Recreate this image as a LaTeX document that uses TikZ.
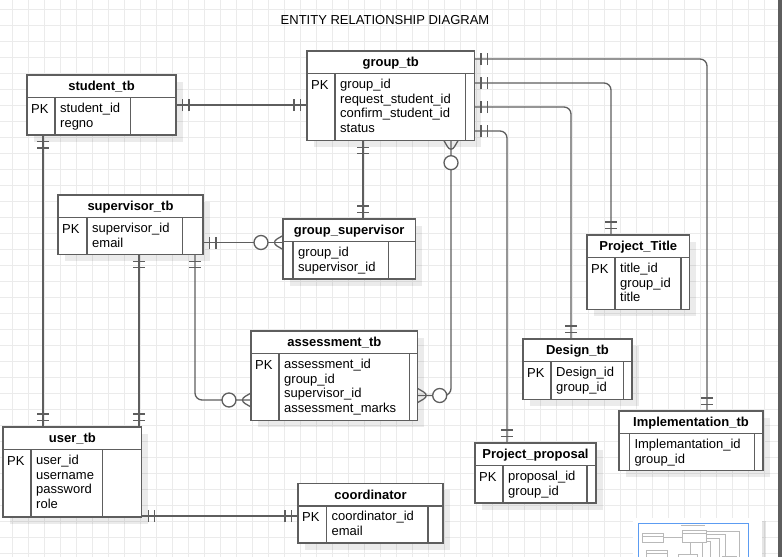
\documentclass[tikz,border=0pt]{standalone}
\usepackage{fontspec}
\setmainfont{Liberation Sans}
\usetikzlibrary{positioning,decorations.markings}
\definecolor{linec}{HTML}{5E5E5E}
\definecolor{gridc}{HTML}{EBEBEB}
\definecolor{minib}{HTML}{5C9CF2}
\newcommand{\txt}{\fontsize{13}{14.7}\selectfont}

% one table: name, corner, width, body height, key column, end column, key, title, fields
\newcommand{\ertab}[9]{%
  \fill[shd, shift={(6.5,6.5)}] #2 rectangle ++(#3,22.5+#4);
  \node[hd, minimum width=#3, anchor=north west] (#1) at #2 {#8};
  \node[tb, minimum width=#3, minimum height=#4, below=0pt of #1] (#1-b) {};
  \draw[ln] ([xshift=#5]#1-b.north west) -- ([xshift=#5]#1-b.south west);
  \draw[ln] ([xshift=-#6]#1-b.north east) -- ([xshift=-#6]#1-b.south east);
  \node[fld] at ([xshift=4,yshift=-5.2]#1-b.north west) {#7};
  \node[fld] at ([xshift=#5+5,yshift=-5.2]#1-b.north west) {#9};
}

\begin{document}
\begin{tikzpicture}[x=1pt, y=-1pt,
  ln/.style={draw=linec, line width=1.3},
  mk/.style={draw=linec, line width=1.3},
  shd/.style={black, opacity=0.08},
  hd/.style={draw=linec, line width=1.3, fill=white, minimum height=22.5, inner sep=0, outer sep=0,
    text height=9, text depth=0, font=\txt\bfseries},
  tb/.style={draw=linec, line width=1.3, fill=white, inner sep=0, outer sep=0},
  fld/.style={anchor=north west, inner sep=0, align=left, font=\txt, execute at begin node=\strut},
  rel/.style={draw=linec, line width=1.3, rounded corners=7},
  bars/.style={postaction={decorate, decoration={markings,
    mark=at position 6.5pt with {\draw[mk] (0pt,-6pt) -- (0pt,6pt);},
    mark=at position 13pt with {\draw[mk] (0pt,-6pt) -- (0pt,6pt);}}}},
  barsE/.style={postaction={decorate, decoration={markings,
    mark=at position -6.5pt with {\draw[mk] (0pt,-6pt) -- (0pt,6pt);},
    mark=at position -13pt with {\draw[mk] (0pt,-6pt) -- (0pt,6pt);}}}},
  crow/.style={postaction={decorate, decoration={markings,
    mark=at position 12pt with {\draw[mk] (-12pt,7pt) -- (0pt,0pt) -- (-12pt,-7pt);},
    mark=at position 22pt with {\draw[mk, fill=white] (0pt,0pt) circle (7pt);}}}},
  crowE/.style={postaction={decorate, decoration={markings,
    mark=at position -12pt with {\draw[mk] (12pt,7pt) -- (0pt,0pt) -- (12pt,-7pt);},
    mark=at position -22pt with {\draw[mk, fill=white] (0pt,0pt) circle (7pt);}}}},
  mini/.style={draw=gray!55, line width=0.4pt}
]
\useasboundingbox (0,0) rectangle (782,557);
\fill[white] (0,0) rectangle (782,557);
\foreach \gx in {12,28,...,780} \draw[gridc, line width=0.8] (\gx,0) -- (\gx,557);
\foreach \gy in {9,25,...,557} \draw[gridc, line width=0.8] (0,\gy) -- (782,\gy);

\node[font=\txt] (ttl) at (385,20.5) {ENTITY RELATIONSHIP DIAGRAM};

% tables
\ertab{st}{(27,75)}{149}{37.5}{28}{45.3}{PK}{student\_tb}{student\_id\\regno}
\ertab{gt}{(307,51)}{167.5}{67.2}{28}{9}{PK}{group\_tb}{group\_id\\request\_student\_id\\confirm\_student\_id\\status}
\ertab{sv}{(58,195)}{145}{37.2}{29}{20.7}{PK}{supervisor\_tb}{supervisor\_id\\email}
\ertab{gs}{(283,219)}{132.5}{37.5}{10}{27}{}{group\_supervisor}{group\_id\\supervisor\_id}
\ertab{as}{(251,331)}{166.7}{66.8}{28}{8.4}{PK}{assessment\_tb}{assessment\_id\\group\_id\\supervisor\_id\\assessment\_marks}
\ertab{pt}{(587,235)}{102.6}{51.8}{28}{8.6}{PK}{Project\_Title}{title\_id\\group\_id\\title}
\ertab{ds}{(523,339)}{109}{37.8}{28}{8.7}{PK}{Design\_tb}{Design\_id\\group\_id}
\ertab{im}{(619,411)}{144}{37}{10.3}{8.7}{}{Implementation\_tb}{Implemantation\_id\\group\_id}
\ertab{pp}{(475,443)}{121}{37.5}{28}{9}{PK}{Project\_proposal}{proposal\_id\\group\_id}
\ertab{us}{(3,427)}{138.7}{67.5}{28}{39.4}{PK}{user\_tb}{user\_id\\username\\password\\role}
\ertab{co}{(298,483.5)}{145}{37}{28.4}{15}{PK}{coordinator}{coordinator\_id\\email}

% relations
\coordinate (s1) at ([yshift=-7.5]st-b.north east);
\draw[rel, bars, barsE] (s1) -- (s1 -| gt-b.west);
\coordinate (s2) at ([xshift=16]st-b.south west);
\draw[rel, bars, barsE] (s2) -- (s2 |- us.north);
\coordinate (g0) at ([xshift=56]gt-b.south west);
\draw[rel, bars, barsE] (g0) -- (g0 |- gs.north);
\draw[rel, crow, crowE] ([xshift=144]gt-b.south west) |- ([yshift=-42]as-b.north east);
\coordinate (v1) at ([yshift=-25]sv-b.north east);
\draw[rel, bars, crowE] (v1) -- (v1 -| gs.west);
\coordinate (v2) at ([xshift=81]sv-b.south west);
\draw[rel, bars, barsE] (v2) -- (v2 |- us.north);
\draw[rel, bars, crowE] ([xshift=137]sv-b.south west) |- ([yshift=-46.5]as-b.north west);
\draw[rel, bars, barsE] ([yshift=-8]gt.north east) -| ([xshift=88]im.north west);
\draw[rel, bars, barsE] ([yshift=-9.5]gt-b.north east) -| ([xshift=24]pt.north west);
\draw[rel, bars, barsE] ([yshift=-33.5]gt-b.north east) -| ([xshift=48]ds.north west);
\draw[rel, bars, barsE] ([yshift=-57.5]gt-b.north east) -| ([xshift=32]pp.north west);
\coordinate (u1) at ([yshift=1]us-b.south east);
\draw[rel, bars, barsE] (u1) -- (u1 -| co-b.west);

% editor edge and outline view
\fill[linec] (778,0) rectangle (782,557);
\fill[black, opacity=0.1] (636,521) rectangle (766,557);
\fill[white] (633,518) rectangle (762,557);
\begin{scope}
  \clip (633,518) rectangle (762,557);
  \draw[minib, line width=0.8] (638.3,523.3) rectangle (748.3,570);
  \begin{scope}[shift={(638,522.5)}, scale=0.143]
    \draw[mini] (300,21) -- (470,21);
    \foreach \bx/\by/\bw/\bh in {27/75/149/60, 307/51/167.5/90, 58/195/145/60, 283/219/132.5/60, 587/235/102.6/74}
      \draw[mini] (\bx,\by) rectangle ++(\bw,\bh) (\bx,\by+22.5) -- ++(\bw,0);
    \draw[mini] (176,105) -- (307,105) (474,59) -| (707,411) (474,83) -| (611,235)
      (474,107) -| (571,339) (474,131) -| (507,443) (363,141) -- (363,219) (451,141) -- (451,330);
  \end{scope}
\end{scope}
\end{tikzpicture}
\end{document}
